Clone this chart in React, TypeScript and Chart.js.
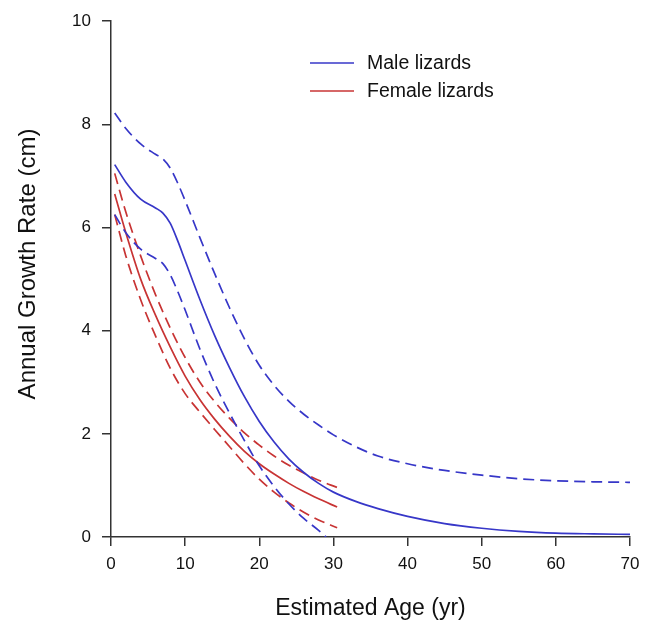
import React, { useEffect, useRef } from "react";
import { Chart, registerables } from "chart.js";

Chart.register(...registerables);

// Male lizards
const maleAge = [0.5, 2, 4, 6, 7, 8, 9, 10, 12, 14, 16, 18, 20, 22, 24, 26, 28, 30, 33, 36, 40, 45, 50, 55, 60, 65, 70];
const maleMean = [7.22, 6.88, 6.55, 6.38, 6.28, 6.08, 5.74, 5.36, 4.6, 3.9, 3.28, 2.72, 2.24, 1.84, 1.51, 1.25, 1.04, 0.87, 0.69, 0.55, 0.4, 0.26, 0.17, 0.11, 0.075, 0.06, 0.05];
const maleUpperAge = [0.5, 2, 4, 6, 7, 8, 9, 10, 12, 14, 16, 18, 20, 22, 24, 26, 28, 30, 33, 36, 40, 45, 50, 55, 60, 65, 70];
const maleUpper = [8.22, 7.92, 7.62, 7.42, 7.33, 7.15, 6.86, 6.52, 5.8, 5.1, 4.44, 3.84, 3.33, 2.94, 2.63, 2.38, 2.17, 1.98, 1.75, 1.57, 1.42, 1.29, 1.2, 1.13, 1.09, 1.07, 1.06];
const maleLowerAge = [0.5, 2, 4, 6, 7, 8, 9, 10, 12, 14, 16, 18, 20, 22, 24, 26, 28, 29];
const maleLower = [6.25, 5.9, 5.58, 5.4, 5.3, 5.08, 4.76, 4.4, 3.64, 2.97, 2.4, 1.87, 1.38, 0.98, 0.64, 0.36, 0.13, 0.0];

// Female lizards
const femaleAge = [0.5, 2, 4, 6, 8, 10, 12, 14, 16, 18, 20, 22, 24, 26, 28, 30.5];
const femaleMean = [6.65, 5.9, 5.0, 4.3, 3.68, 3.12, 2.66, 2.28, 1.95, 1.66, 1.42, 1.22, 1.04, 0.88, 0.74, 0.58];
const femaleUpper = [7.05, 6.3, 5.45, 4.7, 4.05, 3.48, 3.0, 2.62, 2.3, 2.02, 1.78, 1.57, 1.39, 1.24, 1.1, 0.96];
const femaleLower = [6.25, 5.45, 4.6, 3.9, 3.27, 2.78, 2.42, 2.08, 1.75, 1.42, 1.12, 0.87, 0.66, 0.48, 0.33, 0.18];

const legendLabels = ["Male lizards", "Female lizards"];
const xTitle = "Estimated Age (yr)";
const yTitle = "Annual Growth Rate (cm)";

const BLUE = "#3737c8";
const RED = "#c83434";
const AXIS = "#333333";
const FONT = "'Liberation Sans', Arial, sans-serif";

const pts = (xs: number[], ys: number[]) => xs.map((x, i) => ({ x, y: ys[i] }));

const overlayPlugin = {
  id: "overlayText",
  afterDraw(chart: any) {
    const ctx = chart.ctx;
    const items = [
      { label: legendLabels[0], color: BLUE, y: 63 },
      { label: legendLabels[1], color: RED, y: 91 },
    ];
    ctx.save();
    ctx.font = `19.5px ${FONT}`;
    ctx.textBaseline = "middle";
    ctx.textAlign = "left";
    items.forEach((it) => {
      ctx.strokeStyle = it.color;
      ctx.lineWidth = 1.6;
      ctx.setLineDash([]);
      ctx.beginPath();
      ctx.moveTo(310, it.y);
      ctx.lineTo(354, it.y);
      ctx.stroke();
      ctx.fillStyle = "#111";
      ctx.fillText(it.label, 367, it.y + 1);
    });
    // y axis title
    ctx.translate(28, 264);
    ctx.rotate(-Math.PI / 2);
    ctx.textAlign = "center";
    ctx.font = `24px ${FONT}`;
    ctx.fillText(yTitle, 0, 0);
    ctx.restore();
  },
};

export default function App() {
  const ref = useRef<HTMLCanvasElement>(null);
  useEffect(() => {
    if (!ref.current) return;
    const line = (data: any, color: string, dashed: boolean) => ({
      data,
      borderColor: color,
      backgroundColor: color,
      borderWidth: 1.7,
      borderDash: dashed ? [11, 6] : [],
      pointRadius: 0,
      fill: false,
      cubicInterpolationMode: "monotone" as const,
    });
    const chart = new Chart(ref.current, {
      type: "line",
      data: {
        datasets: [
          line(pts(maleUpperAge, maleUpper), BLUE, true),
          line(pts(maleLowerAge, maleLower), BLUE, true),
          line(pts(maleAge, maleMean), BLUE, false),
          line(pts(femaleAge, femaleUpper), RED, true),
          line(pts(femaleAge, femaleLower), RED, true),
          line(pts(femaleAge, femaleMean), RED, false),
        ],
      },
      options: {
        responsive: false,
        animation: false,
        layout: { padding: { left: 0, right: 22, top: 17, bottom: 0 } },
        plugins: { legend: { display: false }, tooltip: { enabled: false } },
        scales: {
          x: {
            type: "linear",
            min: 0,
            max: 70,
            afterFit: (s: any) => {
              s.height = 91;
            },
            ticks: { stepSize: 10, padding: 8, color: "#111", font: { family: FONT, size: 17 } },
            grid: { drawOnChartArea: false, drawTicks: true, tickLength: 9, color: AXIS, lineWidth: 1.5 },
            border: { display: true, color: AXIS, width: 1.5 },
            title: {
              display: true,
              text: xTitle,
              color: "#111",
              font: { family: FONT, size: 23 },
              padding: { top: 0, bottom: 6 },
            },
          },
          y: {
            type: "linear",
            min: 0,
            max: 10,
            afterFit: (s: any) => {
              s.width = 111;
            },
            ticks: { stepSize: 2, padding: 11, color: "#111", font: { family: FONT, size: 17 } },
            grid: { drawOnChartArea: false, drawTicks: true, tickLength: 9, color: AXIS, lineWidth: 1.5 },
            border: { display: true, color: AXIS, width: 1.5 },
            title: { display: false },
          },
        },
      },
      plugins: [overlayPlugin],
    });
    return () => chart.destroy();
  }, []);
  return (
    <div style={{ position: "absolute", left: 0, top: 0, width: 652, height: 628, background: "#fff" }}>
      <canvas ref={ref} width={652} height={628} style={{ display: "block" }} />
    </div>
  );
}
